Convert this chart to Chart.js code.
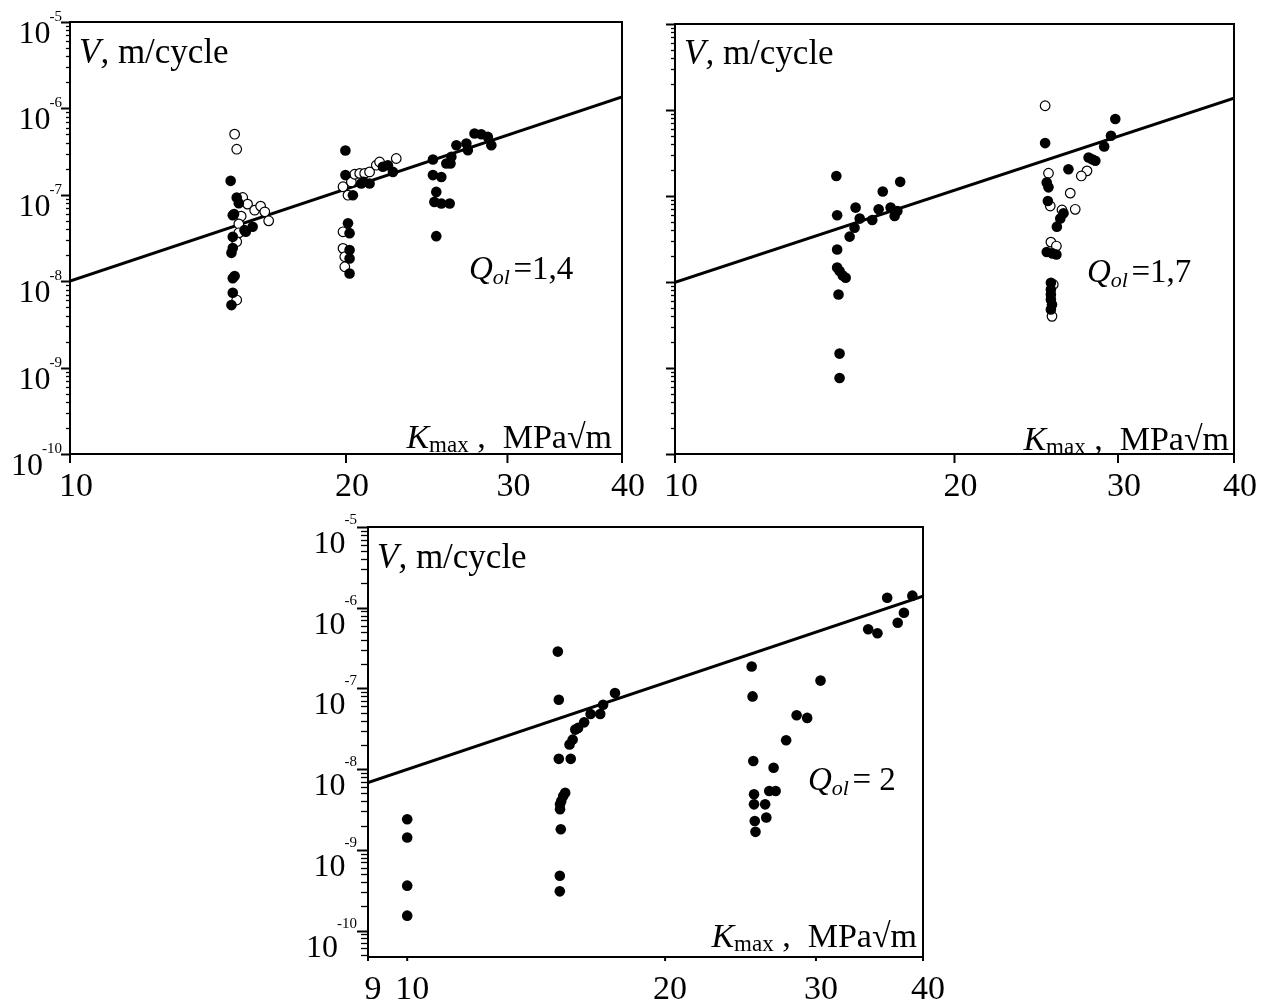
<!DOCTYPE html>
<html>
<head>
<meta charset="utf-8">
<title>Crack growth rate vs Kmax</title>
<script src="https://cdn.jsdelivr.net/npm/chart.js@4.4.1/dist/chart.umd.min.js"></script>
<style>
  html, body { margin: 0; padding: 0; background: #fff; }
  #wrap { position: relative; width: 1266px; height: 1001px; overflow: hidden; background: #fff; }
  #wrap canvas { position: absolute; left: 0; top: 0; }
</style>
</head>
<body>
<div id="wrap">
  <canvas id="pA" width="1266" height="1001"></canvas>
  <canvas id="pB" width="1266" height="1001"></canvas>
  <canvas id="pC" width="1266" height="1001"></canvas>
</div>
<script>
// ---- tick values ----
const kTicksUpper = [10, 20, 30, 40];
const kTicksLower = [9, 10, 20, 30, 40];
const vExponents = [-5, -6, -7, -8, -9, -10];

// ---- texts ----
const vAxisText = ['V', ',', ' m/cycle'];
const kAxisText = ['K', 'max', ' ,  MPa\u221Am'];
const qLabels = ['=1,4', '=1,7', '= 2'];

// ---- Q_ol = 1,4 : [Kmax, V] ----
const q14Solid = [
  [14.97, 1.45e-7], [15.20, 9.3e-8], [15.28, 8.0e-8], [15.05, 5.8e-8], [15.10, 6.0e-8],
  [15.82, 4.26e-8], [15.55, 3.73e-8], [15.50, 3.9e-8], [15.05, 3.26e-8], [15.05, 2.42e-8],
  [15.00, 2.13e-8], [15.12, 1.15e-8], [15.05, 1.08e-8], [15.05, 7.34e-9], [15.00, 5.29e-9],
  [19.97, 3.26e-7], [19.97, 1.69e-7], [21.94, 2.11e-7], [22.22, 2.20e-7], [22.50, 1.84e-7],
  [20.78, 1.35e-7], [20.90, 1.41e-7], [21.22, 1.35e-7], [20.35, 9.9e-8], [20.10, 4.67e-8],
  [20.18, 3.6e-8], [20.18, 2.29e-8], [20.18, 1.83e-8], [20.18, 1.23e-8],
  [24.88, 2.56e-7], [24.88, 1.69e-7], [25.41, 1.61e-7], [25.09, 1.08e-7], [24.97, 8.28e-8],
  [25.41, 7.94e-8], [25.95, 7.94e-8], [25.09, 3.32e-8], [25.73, 2.30e-7], [26.00, 2.30e-7],
  [26.06, 2.75e-7], [26.39, 3.75e-7], [27.06, 3.93e-7], [27.16, 3.28e-7], [27.62, 5.12e-7],
  [28.09, 5.03e-7], [28.56, 4.68e-7], [28.81, 3.75e-7]
];
const q14Open = [
  [15.12, 5.03e-7], [15.20, 3.37e-7], [15.43, 9.3e-8], [15.62, 7.8e-8], [15.90, 6.64e-8],
  [16.14, 7.39e-8], [16.31, 6.35e-8], [16.47, 5.0e-8], [15.37, 5.66e-8], [15.28, 4.6e-8],
  [15.28, 3.63e-8], [15.20, 2.86e-8], [15.20, 6.05e-9],
  [19.85, 1.24e-7], [20.27, 1.41e-7], [20.44, 1.73e-7], [20.70, 1.77e-7], [20.96, 1.77e-7],
  [21.22, 1.84e-7], [21.58, 2.20e-7], [21.76, 2.40e-7], [22.69, 2.63e-7], [20.10, 9.9e-8],
  [19.85, 3.73e-8], [19.85, 2.40e-8], [19.94, 1.92e-8], [19.94, 1.47e-8]
];
const q14Fit = [[10, 1.0e-8], [40, 1.36e-6]];

// ---- Q_ol = 1,7 ----
const q17Solid = [
  [14.92, 1.71e-7], [14.95, 5.97e-8], [14.95, 2.39e-8], [14.95, 1.47e-8], [15.04, 1.34e-8],
  [15.16, 1.19e-8], [15.27, 1.12e-8], [15.00, 7.16e-9], [15.04, 1.47e-9], [15.04, 7.64e-10],
  [15.42, 3.37e-8], [15.61, 4.28e-8], [15.65, 7.33e-8], [15.81, 5.46e-8], [16.31, 5.26e-8],
  [16.57, 7.02e-8], [16.74, 1.13e-7], [17.07, 7.33e-8], [17.24, 5.86e-8], [17.36, 6.70e-8],
  [17.48, 1.46e-7],
  [25.04, 4.12e-7], [29.80, 7.85e-7], [29.48, 5.01e-7], [28.99, 3.77e-7], [27.89, 2.80e-7],
  [28.13, 2.68e-7], [28.36, 2.57e-7], [26.53, 2.05e-7], [25.14, 1.44e-7], [25.25, 1.26e-7],
  [25.21, 8.75e-8], [26.21, 6.29e-8], [26.00, 5.46e-8], [25.78, 4.4e-8], [25.14, 2.23e-8],
  [25.50, 2.15e-8], [25.75, 2.09e-8], [25.40, 9.8e-9], [25.40, 8.2e-9], [25.40, 7.16e-9],
  [25.40, 6.25e-9], [25.47, 5.47e-9], [25.40, 4.78e-9]
];
const q17Open = [
  [25.04, 1.12e-6], [27.78, 1.96e-7], [27.39, 1.71e-7], [25.25, 1.84e-7], [26.65, 1.08e-7],
  [25.36, 7.65e-8], [26.11, 6.88e-8], [26.98, 7.0e-8], [25.40, 2.91e-8], [25.75, 2.62e-8],
  [25.55, 9.35e-9], [25.47, 3.99e-9]
];
const q17Fit = [[10, 9.9e-9], [40, 1.37e-6]];

// ---- Q_ol = 2 ----
const q20Solid = [
  [10.0, 2.39e-9], [10.0, 1.42e-9], [10.0, 3.6e-10], [10.0, 1.53e-10],
  [14.99, 2.86e-7], [15.03, 7.24e-8], [15.03, 1.34e-8], [15.52, 1.34e-8], [15.29, 5.1e-9],
  [15.21, 4.65e-9], [15.13, 4.03e-9], [15.08, 3.66e-9], [15.08, 3.18e-9], [15.11, 1.8e-9],
  [15.07, 4.78e-10], [15.07, 3.06e-10], [15.47, 2.02e-8], [15.60, 2.32e-8], [15.71, 3.09e-8],
  [15.83, 3.24e-8], [16.09, 3.8e-8], [16.37, 4.82e-8], [16.80, 4.82e-8], [16.93, 6.28e-8],
  [17.48, 8.75e-8],
  [25.24, 1.87e-7], [25.30, 7.96e-8], [25.35, 1.26e-8], [25.40, 4.87e-9], [25.40, 3.66e-9],
  [25.45, 2.28e-9], [25.50, 1.67e-9], [26.17, 3.66e-9], [26.25, 2.51e-9], [26.46, 5.35e-9],
  [26.92, 5.35e-9], [26.77, 1.04e-8], [27.69, 2.28e-8], [28.48, 4.65e-8], [29.30, 4.31e-8],
  [30.37, 1.25e-7], [34.52, 5.41e-7], [35.39, 4.82e-7], [36.33, 1.33e-6], [37.37, 6.52e-7],
  [38.00, 8.67e-7], [38.87, 1.41e-6]
];
const q20Open = [];
const q20Fit = [[9, 6.8e-9], [40, 1.39e-6]];

const SERIF = '"Liberation Serif", "Times New Roman", Times, serif';
const W = 1266, H = 1001;

function toPoints(list) { return list.map(p => ({ x: p[0], y: p[1] })); }

function runsWidth(ctx, runs) {
  let w = 0;
  for (const r of runs) { ctx.font = r.font; w += ctx.measureText(r.t).width; }
  return w;
}
function drawRuns(ctx, x, y, runs, align) {
  let cx = align === 'right' ? x - runsWidth(ctx, runs) : x;
  ctx.textAlign = 'left';
  ctx.textBaseline = 'alphabetic';
  for (const r of runs) {
    ctx.font = r.font;
    ctx.fillText(r.t, cx, y + (r.dy || 0));
    cx += ctx.measureText(r.t).width;
  }
}

// Frame, log ticks, tick labels and annotations drawn over the scatter
function panelDecor(cfg) {
  return {
    id: 'panelDecor',
    afterDatasetsDraw(chart) {
      const { ctx, chartArea: a } = chart;
      const xs = chart.scales.x, ys = chart.scales.y;
      ctx.save();
      ctx.strokeStyle = '#000';
      ctx.fillStyle = '#000';
      ctx.lineCap = 'butt';

      // frame
      ctx.lineWidth = 2;
      ctx.strokeRect(a.left, a.top, a.right - a.left, a.bottom - a.top);

      // y ticks: decades and 2..9 minors, pointing outwards
      const yMin = ys.min, yMax = ys.max;
      for (let e = -11; e <= -5; e++) {
        for (let m = 1; m <= 9; m++) {
          const v = m * Math.pow(10, e);
          if (v < yMin * 0.999 || v > yMax * 1.001) continue;
          const py = Math.round(ys.getPixelForValue(v)) + 0.5;
          ctx.lineWidth = m === 1 ? 2 : 1.3;
          ctx.beginPath();
          ctx.moveTo(a.left, py);
          ctx.lineTo(a.left - (m === 1 ? cfg.yTickLen[0] : cfg.yTickLen[1]), py);
          ctx.stroke();
        }
      }
      // x ticks
      ctx.lineWidth = 2;
      for (const k of cfg.xTicks) {
        const px = xs.getPixelForValue(k);
        ctx.beginPath();
        ctx.moveTo(px, a.bottom);
        ctx.lineTo(px, a.bottom + cfg.xTickLen);
        ctx.stroke();
      }
      // x tick labels
      ctx.font = '34px ' + SERIF;
      ctx.textAlign = 'center';
      ctx.textBaseline = 'alphabetic';
      for (const k of cfg.xTicks) {
        const px = xs.getPixelForValue(k);
        ctx.fillText(String(k), px + cfg.xLabelShift, a.bottom + 42);
      }
      // y tick labels 10^n
      if (cfg.yLabels) {
        const L = cfg.yLabels;
        for (const e of vExponents) {
          const py = ys.getPixelForValue(Math.pow(10, e));
          const sup = String(e);
          ctx.font = '15px ' + SERIF;
          ctx.textAlign = 'right';
          const supRight = a.left - L.supGap;
          const supW = ctx.measureText(sup).width;
          ctx.fillText(sup, supRight, py + L.supDy);
          ctx.font = '32px ' + SERIF;
          ctx.fillText('10', supRight - supW + 1, py + L.baseDy);
        }
      }

      // V, m/cycle
      drawRuns(ctx, a.left + cfg.vPos[0], a.top + cfg.vPos[1], [
        { t: vAxisText[0], font: 'italic 35px ' + SERIF },
        { t: vAxisText[1], font: 'italic 35px ' + SERIF },
        { t: vAxisText[2], font: '35px ' + SERIF }
      ], 'left');
      // Kmax , MPa sqrt m
      drawRuns(ctx, a.right - cfg.kPos[0], a.bottom - cfg.kPos[1], [
        { t: kAxisText[0], font: 'italic 34px ' + SERIF },
        { t: kAxisText[1], font: '23px ' + SERIF, dy: 4 },
        { t: kAxisText[2], font: '34px ' + SERIF }
      ], 'right');
      // Q_ol label
      drawRuns(ctx, cfg.qPos[0], cfg.qPos[1], [
        { t: 'Q', font: 'italic 33px ' + SERIF },
        { t: 'ol', font: 'italic 22px ' + SERIF, dy: 5 },
        { t: ' ', font: '14px ' + SERIF },
        { t: cfg.qText, font: '33px ' + SERIF }
      ], 'left');
      ctx.restore();
    }
  };
}

function makePanel(id, cfg) {
  return new Chart(document.getElementById(id), {
    type: 'scatter',
    data: {
      datasets: [
        { data: toPoints(cfg.solid), pointRadius: 5.3, pointBackgroundColor: '#000',
          pointBorderColor: '#000', pointBorderWidth: 0, pointHoverRadius: 5.3, order: 1 },
        { data: toPoints(cfg.open), pointRadius: 4.8, pointBackgroundColor: '#fff',
          pointBorderColor: '#000', pointBorderWidth: 1.2, pointHoverRadius: 4.8, order: 2 },
        { data: toPoints(cfg.fit), showLine: true, pointRadius: 0, borderColor: '#000',
          borderWidth: 3, fill: false, order: 3 }
      ]
    },
    options: {
      responsive: false,
      animation: false,
      devicePixelRatio: 1,
      events: [],
      layout: { padding: { left: cfg.area[0], top: cfg.area[1], right: W - cfg.area[2], bottom: H - cfg.area[3] } },
      plugins: { legend: { display: false }, tooltip: { enabled: false } },
      scales: {
        x: { type: 'logarithmic', min: cfg.xMin, max: cfg.xMax, display: false },
        y: { type: 'logarithmic', min: cfg.yMin, max: cfg.yMax, display: false }
      }
    },
    plugins: [panelDecor(cfg)]
  });
}

makePanel('pA', {
  area: [70, 22, 622, 454], xMin: 10, xMax: 40, yMin: 1e-10, yMax: 1e-5,
  xTicks: kTicksUpper, xLabelShift: 6, xTickLen: 9, yTickLen: [9, 4],
  yLabels: { supGap: 8, supDy: -1, baseDy: 21 },
  solid: q14Solid, open: q14Open, fit: q14Fit,
  vPos: [9, 41], kPos: [10, 6], qPos: [469, 279], qText: qLabels[0]
});
makePanel('pB', {
  area: [675, 24, 1234, 454], xMin: 10, xMax: 40, yMin: 1e-10, yMax: 1e-5,
  xTicks: kTicksUpper, xLabelShift: 6, xTickLen: 9, yTickLen: [9, 4],
  yLabels: null,
  solid: q17Solid, open: q17Open, fit: q17Fit,
  vPos: [9, 40], kPos: [5, 4], qPos: [1087, 282], qText: qLabels[1]
});
makePanel('pC', {
  area: [368, 527, 923, 957], xMin: 9, xMax: 40, yMin: 4.7e-11, yMax: 1e-5,
  xTicks: kTicksLower, xLabelShift: 5, xTickLen: 4, yTickLen: [11, 7],
  yLabels: { supGap: 11, supDy: -3, baseDy: 26 },
  solid: q20Solid, open: q20Open, fit: q20Fit,
  vPos: [9, 41], kPos: [6, 10], qPos: [808, 790], qText: qLabels[2]
});
</script>
</body>
</html>
